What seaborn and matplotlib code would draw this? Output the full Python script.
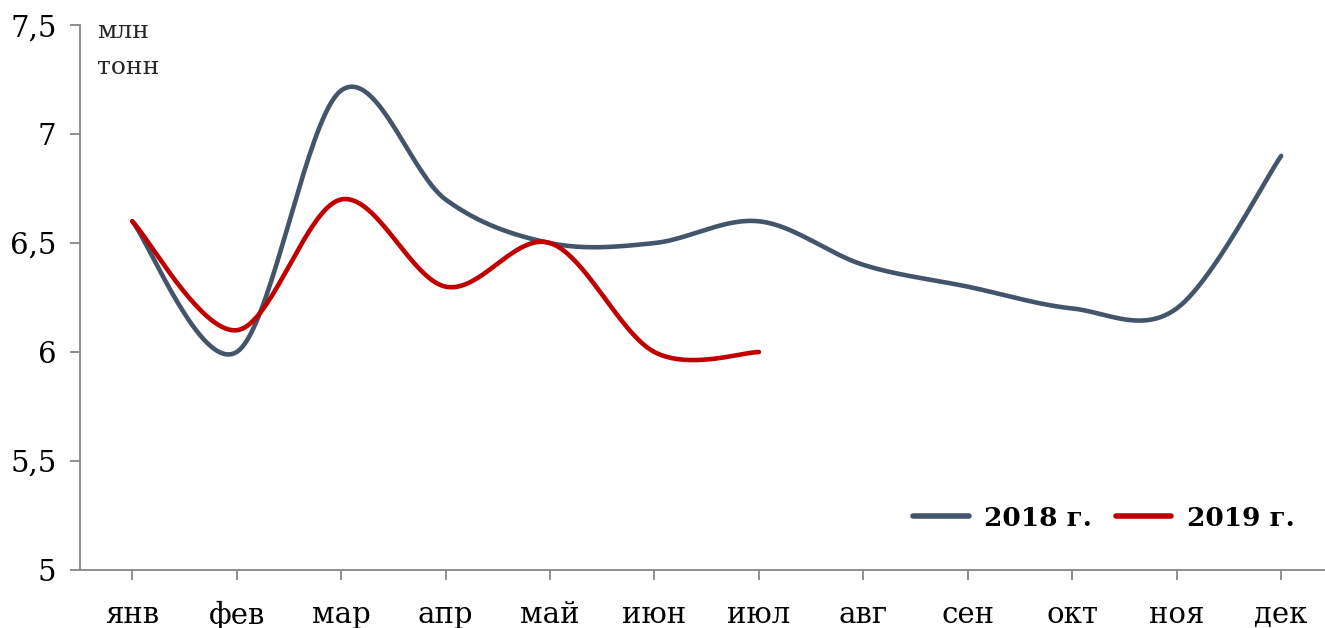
import numpy as np
import pandas as pd
import matplotlib
matplotlib.use("Agg")
import matplotlib.pyplot as plt
import seaborn as sns
from matplotlib.lines import Line2D

# data
months = ['янв', 'фев', 'мар', 'апр', 'май', 'июн', 'июл', 'авг', 'сен', 'окт', 'ноя', 'дек']
vals_2018 = [6.6, 6.0, 7.2, 6.7, 6.5, 6.5, 6.6, 6.4, 6.3, 6.2, 6.2, 6.9]
vals_2019 = [6.6, 6.1, 6.7, 6.3, 6.5, 6.0, 6.0]
c2018 = '#44546A'
c2019 = '#C00000'


def smooth(y, n=40):
    # excel-like smoothed line (catmull-rom bezier)
    x = np.arange(len(y), dtype=float)
    y = np.asarray(y, dtype=float)
    px = np.concatenate([[x[0]], x, [x[-1]]])
    py = np.concatenate([[y[0]], y, [y[-1]]])
    xs, ys = [], []
    t = np.linspace(0, 1, n)
    for i in range(len(y) - 1):
        p0 = np.array([x[i], y[i]])
        p3 = np.array([x[i + 1], y[i + 1]])
        p1 = p0 + (np.array([px[i + 2], py[i + 2]]) - np.array([px[i], py[i]])) / 6
        p2 = p3 - (np.array([px[i + 3], py[i + 3]]) - np.array([px[i + 1], py[i + 1]])) / 6
        b = ((1 - t) ** 3)[:, None] * p0 + (3 * (1 - t) ** 2 * t)[:, None] * p1 \
            + (3 * (1 - t) * t ** 2)[:, None] * p2 + (t ** 3)[:, None] * p3
        xs.extend(b[:, 0]); ys.extend(b[:, 1])
    return xs, ys


frames = []
for name, vals in [('2018 г.', vals_2018), ('2019 г.', vals_2019)]:
    sx, sy = smooth(vals)
    frames.append(pd.DataFrame({'x': sx, 'y': sy, 'year': name}))
df = pd.concat(frames, ignore_index=True)

sns.set_style('white')
plt.rcParams['font.family'] = ['DejaVu Serif']

fig = plt.figure(figsize=(13.25, 6.28), dpi=100)
ax = fig.add_axes([0.0604, 0.0924, 0.9396, 0.8676])

sns.lineplot(data=df, x='x', y='y', hue='year', palette={'2018 г.': c2018, '2019 г.': c2019},
             sort=False, estimator=None, linewidth=3.3, ax=ax, legend=False)

ax.set_xlim(-0.5, 11.42)
ax.set_ylim(5, 7.5)
ax.set_xticks(range(len(months)))
ax.set_xticklabels(months)
ax.set_yticks([5, 5.5, 6, 6.5, 7, 7.5])
ax.set_yticklabels(['5', '5,5', '6', '6,5', '7', '7,5'])
ax.set_xlabel('')
ax.set_ylabel('')

for s in ['top', 'right']:
    ax.spines[s].set_visible(False)
for s in ['left', 'bottom']:
    ax.spines[s].set_color('#868686')
    ax.spines[s].set_linewidth(1.3)
ax.tick_params(axis='both', bottom=True, left=True, direction='out', colors='#868686', length=7,
               width=1.3, labelcolor='black', labelsize=21)
ax.tick_params(axis='x', pad=15)
ax.tick_params(axis='y', pad=10)

ax.text(0.014, 1.01, 'млн\nтонн', transform=ax.transAxes, fontsize=18, va='top', ha='left',
        color='#262626', linespacing=1.75)

handles = [Line2D([], [], color=c2018, lw=4, solid_capstyle='round'),
           Line2D([], [], color=c2019, lw=4, solid_capstyle='round')]
ax.legend(handles, ['2018 г.', '2019 г.'], loc='center right', bbox_to_anchor=(0.995, 0.095), ncol=2,
          frameon=False, prop={'weight': 'bold', 'size': 19}, handlelength=2.1, columnspacing=0.9,
          handletextpad=0.6, labelcolor='black')

fig.savefig('out.png', dpi=100)
